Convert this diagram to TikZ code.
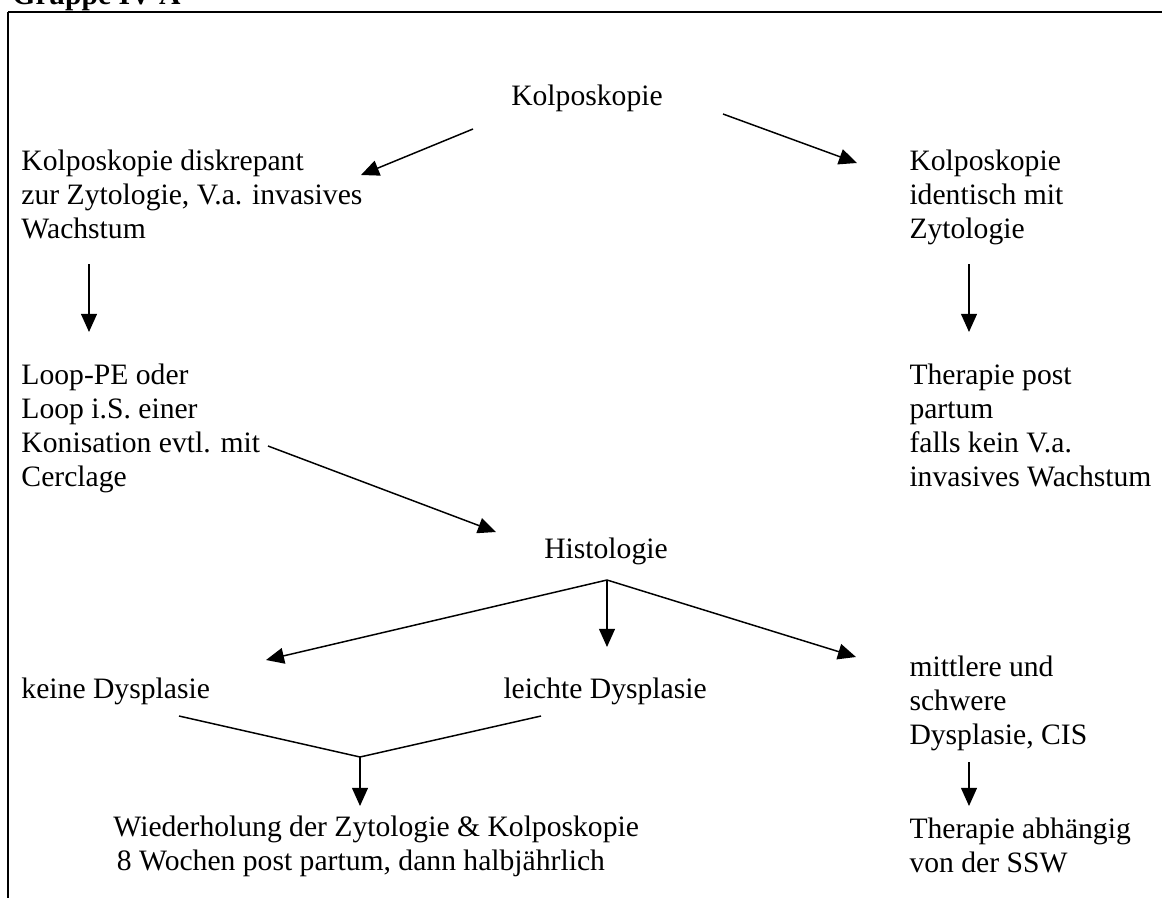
\documentclass[tikz,border=0pt]{standalone}
\usepackage{fontspec}
\setmainfont{Liberation Serif}
\usetikzlibrary{arrows.meta}
\newcommand\mylines[1]{\begin{tabular}[t]{@{}l@{}}#1\end{tabular}}
\begin{document}
\begin{tikzpicture}[x=0.405pt,y=-0.405pt,
  txt/.style={inner sep=0pt, anchor=base west, font=\fontsize{12}{13.8}\selectfont},
  arr/.style={line width=0.6pt, -{Triangle[length=7.3pt,width=6.4pt]}},
  ln/.style={line width=0.6pt}]
\useasboundingbox (0,0) rectangle (1162,898);
\begin{scope}
\clip (0,0) rectangle (1162,898);
\node[txt, font=\fontsize{12}{13.8}\selectfont\bfseries] (title) at (12,5) {Gruppe IV A};
\end{scope}
\draw[line width=1.1pt] (8,12) -- (1162,12);
\draw[line width=0.6pt] (8,12) -- (8,898);

\node[txt, anchor=base] (kolpo) at (587,105) {Kolposkopie};
\node[txt] (diskr) at (21,170) {\mylines{Kolposkopie diskrepant\\zur Zytologie, V.a. invasives\\Wachstum}};
\node[txt] (ident) at (909,170) {\mylines{Kolposkopie\\identisch mit\\Zytologie}};
\node[txt] (loop) at (21,384) {\mylines{Loop-PE oder\\Loop i.S. einer\\Konisation evtl. mit\\Cerclage}};
\node[txt] (ther1) at (909,384) {\mylines{Therapie post\\partum\\falls kein V.a.\\invasives Wachstum}};
\node[txt, anchor=base] (histo) at (606,558) {Histologie};
\node[txt] (keine) at (21,698) {keine Dysplasie};
\node[txt] (leicht) at (503,698) {leichte Dysplasie};
\node[txt] (mittel) at (909,676) {\mylines{mittlere und\\schwere\\Dysplasie, CIS}};
\node[txt] (wieder) at (113,836) {\mylines{Wiederholung der Zytologie \& Kolposkopie\\\kern1.4pt 8 Wochen post partum, dann halbjährlich}};
\node[txt] (ther2) at (909,838) {\mylines{Therapie abhängig\\von der SSW}};

\coordinate (k1) at (473,129);
\coordinate (k1e) at (361,175);
\coordinate (k2) at (723,114);
\coordinate (k2e) at (857,163);
\coordinate (d1) at (89,264);
\coordinate (d1e) at (89,332);
\coordinate (i1) at (969,264);
\coordinate (i1e) at (969,332);
\coordinate (l1) at (268,446);
\coordinate (l1e) at (496,532);
\coordinate (h0) at (607,580);
\coordinate (hL) at (266,660);
\coordinate (hM) at (607,647);
\coordinate (hR) at (856,657);
\coordinate (kd) at (179,716);
\coordinate (ld) at (541,716);
\coordinate (j0) at (360,757);
\coordinate (j0e) at (360,806);
\coordinate (m1) at (969,762);
\coordinate (m1e) at (969,806);

\draw[arr] (k1) -- (k1e);
\draw[arr] (k2) -- (k2e);
\draw[arr] (d1) -- (d1e);
\draw[arr] (i1) -- (i1e);
\draw[arr] (l1) -- (l1e);
\draw[arr] (h0) -- (hL);
\draw[arr] (h0) -- (hM);
\draw[arr] (h0) -- (hR);
\draw[ln] (kd) -- (j0) -- (ld);
\draw[arr] (j0) -- (j0e);
\draw[arr] (m1) -- (m1e);
\end{tikzpicture}
\end{document}
